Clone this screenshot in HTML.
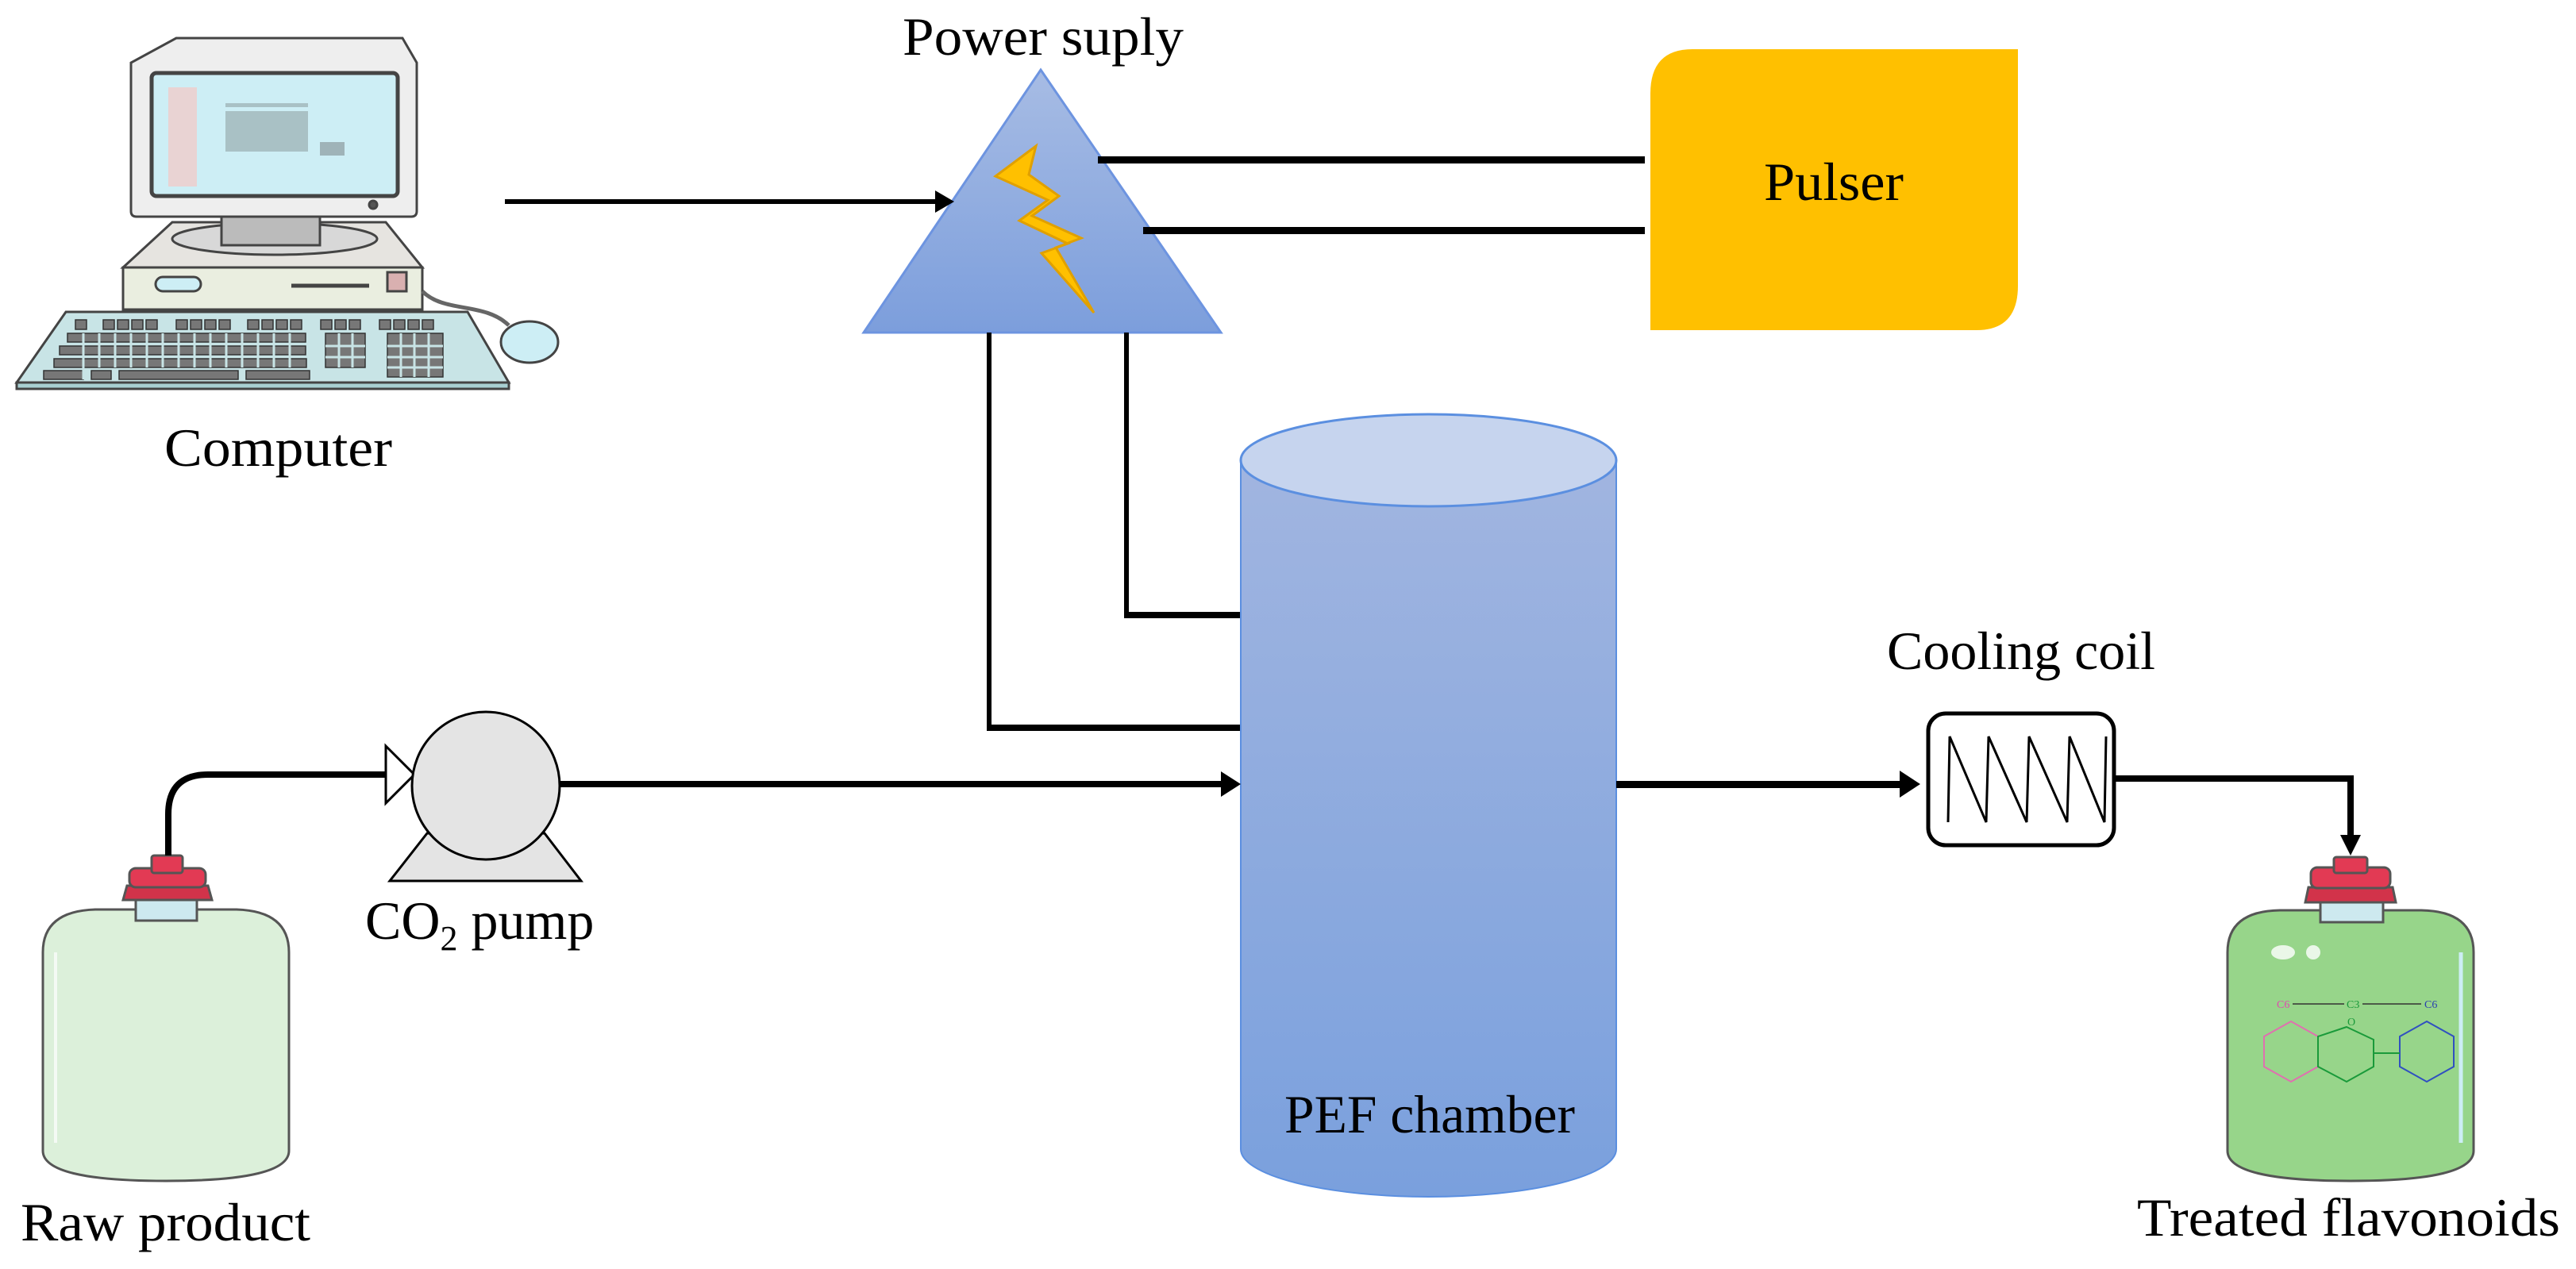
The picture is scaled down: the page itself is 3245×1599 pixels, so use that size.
<!DOCTYPE html>
<html><head><meta charset="utf-8"><style>html,body{margin:0;padding:0;background:#fff}svg{display:block}</style></head>
<body>
<svg width="3245" height="1599" viewBox="0 0 3245 1599" xmlns="http://www.w3.org/2000/svg" font-family="'Liberation Serif', serif">
<defs>
<linearGradient id="tri" x1="0" y1="0" x2="0" y2="1"><stop offset="0" stop-color="#a7bce4"/><stop offset="1" stop-color="#7c9edc"/></linearGradient>
<linearGradient id="cyl" x1="0" y1="0" x2="0" y2="1"><stop offset="0" stop-color="#a1b5e0"/><stop offset="1" stop-color="#7aa0dd"/></linearGradient>
</defs>

<!-- Computer -->
<g stroke="#444" stroke-width="3">
  <path d="M222,48 L507,48 L525,79 L525,266 Q525,273 518,273 L172,273 Q165,273 165,266 L165,79 Z" fill="#eeeeee"/>
  <rect x="191" y="92" width="310" height="155" rx="6" fill="#cdeef5" stroke-width="5"/>
  <rect x="212" y="110" width="36" height="125" fill="#e9d3d3" stroke="none"/>
  <rect x="284" y="140" width="104" height="51" fill="#a9c1c5" stroke="none"/>
  <rect x="284" y="130" width="104" height="5" fill="#a9c1c5" stroke="none"/>
  <rect x="403" y="179" width="31" height="17" fill="#9fb3b8" stroke="none"/>
  <circle cx="470" cy="258" r="5" fill="#555"/>
  <path d="M217,280 L486,280 L532,337 L155,337 Z" fill="#e6e4e0"/>
  <ellipse cx="346" cy="301" rx="129" ry="20" fill="#d8d8d8"/>
  <rect x="279" y="273" width="124" height="36" fill="#bbb"/>
  <rect x="155" y="337" width="377" height="53" fill="#eaeee0"/>
  <rect x="196" y="349" width="57" height="18" rx="9" fill="#cdeef5"/>
  <line x1="367" y1="360" x2="465" y2="360" stroke-width="5"/>
  <rect x="488" y="343" width="24" height="24" fill="#d9b0b0"/>
  <path d="M532,367 C560,395 610,380 641,410" fill="none" stroke-width="5" stroke="#666"/>
  <ellipse cx="667" cy="431" rx="36" ry="26" fill="#cdeef5"/>
  <path d="M83,393 L589,393 L641,482 L21,482 Z" fill="#c8e4e6"/>
  <rect x="21" y="482" width="620" height="8" fill="#a8d0d2"/>
</g>
<g fill="#777" stroke="#333" stroke-width="1.5">
  <rect x="95" y="403" width="14" height="12"/><rect x="130" y="403" width="14" height="12"/><rect x="148" y="403" width="14" height="12"/><rect x="166" y="403" width="14" height="12"/><rect x="184" y="403" width="14" height="12"/>
  <rect x="222" y="403" width="14" height="12"/><rect x="240" y="403" width="14" height="12"/><rect x="258" y="403" width="14" height="12"/><rect x="276" y="403" width="14" height="12"/>
  <rect x="312" y="403" width="14" height="12"/><rect x="330" y="403" width="14" height="12"/><rect x="348" y="403" width="14" height="12"/><rect x="366" y="403" width="14" height="12"/>
  <rect x="404" y="403" width="14" height="12"/><rect x="422" y="403" width="14" height="12"/><rect x="440" y="403" width="14" height="12"/>
  <rect x="478" y="403" width="14" height="12"/><rect x="496" y="403" width="14" height="12"/><rect x="514" y="403" width="14" height="12"/><rect x="532" y="403" width="14" height="12"/>
</g>
<g fill="#777" stroke="#333" stroke-width="1.5">
  <rect x="85" y="420" width="300" height="11"/><rect x="75" y="436" width="310" height="11"/><rect x="68" y="452" width="318" height="11"/>
  <rect x="410" y="420" width="50" height="43"/><rect x="488" y="420" width="70" height="55"/>
  <rect x="55" y="467" width="50" height="11"/><rect x="115" y="467" width="25" height="11"/><rect x="150" y="467" width="150" height="11"/><rect x="310" y="467" width="80" height="11"/>
</g>
<g stroke="#c8e4e6" stroke-width="3">
  <line x1="105" y1="420" x2="105" y2="478"/><line x1="125" y1="420" x2="125" y2="463"/><line x1="145" y1="420" x2="145" y2="463"/><line x1="165" y1="420" x2="165" y2="463"/><line x1="185" y1="420" x2="185" y2="463"/><line x1="205" y1="420" x2="205" y2="463"/><line x1="225" y1="420" x2="225" y2="463"/><line x1="245" y1="420" x2="245" y2="463"/><line x1="265" y1="420" x2="265" y2="463"/><line x1="285" y1="420" x2="285" y2="463"/><line x1="305" y1="420" x2="305" y2="463"/><line x1="325" y1="420" x2="325" y2="463"/><line x1="345" y1="420" x2="345" y2="463"/><line x1="365" y1="420" x2="365" y2="463"/>
  <line x1="427" y1="420" x2="427" y2="463"/><line x1="444" y1="420" x2="444" y2="463"/><line x1="505" y1="420" x2="505" y2="475"/><line x1="522" y1="420" x2="522" y2="475"/><line x1="540" y1="420" x2="540" y2="475"/>
  <line x1="488" y1="436" x2="558" y2="436"/><line x1="488" y1="450" x2="558" y2="450"/><line x1="488" y1="463" x2="558" y2="463"/><line x1="410" y1="436" x2="460" y2="436"/><line x1="410" y1="450" x2="460" y2="450"/>
</g>
<text x="207" y="587" font-size="68" textLength="287" lengthAdjust="spacingAndGlyphs">Computer</text>

<!-- Power supply -->
<text x="1137" y="69" font-size="68" textLength="354" lengthAdjust="spacingAndGlyphs">Power suply</text>
<polygon points="1311,88 1538,419 1088,419" fill="url(#tri)" stroke="#6d94e0" stroke-width="3"/>
<polygon points="1305,184 1254,222 1320,252 1284,278 1345,307 1312,319 1378,394 1330,312 1362,300 1300,272 1334,247 1296,220" fill="#ffc000" stroke="#e0a000" stroke-width="3"/>

<!-- connectors -->
<rect x="636" y="251" width="545" height="6" fill="#000"/>
<polygon points="1178,240 1202,254 1178,268" fill="#000"/>
<rect x="1383" y="197" width="689" height="9" fill="#000"/>
<rect x="1440" y="286" width="632" height="9" fill="#000"/>
<rect x="1243" y="419" width="6" height="502" fill="#000"/>
<rect x="1243" y="913" width="329" height="8" fill="#000"/>
<rect x="1416" y="419" width="6" height="360" fill="#000"/>
<rect x="1416" y="771" width="156" height="8" fill="#000"/>

<!-- Pulser -->
<path d="M2132,62 L2542,62 L2542,360 Q2542,416 2490,416 L2079,416 L2079,118 Q2079,62 2132,62 Z" fill="#ffc000"/>
<text x="2222" y="252" font-size="68" textLength="176" lengthAdjust="spacingAndGlyphs">Pulser</text>

<!-- Cylinder -->
<path d="M1563,580 L1563,1448 A236.5,60 0 0 0 2036,1448 L2036,580 Z" fill="url(#cyl)" stroke="#5b8fe0" stroke-width="2"/>
<ellipse cx="1799.5" cy="580" rx="236.5" ry="58" fill="#c6d4ee" stroke="#5b8fe0" stroke-width="3"/>
<text x="1618" y="1427" font-size="68" textLength="366" lengthAdjust="spacingAndGlyphs">PEF chamber</text>

<!-- Raw bottle -->
<g stroke="#555" stroke-width="3">
  <path d="M54,1200 Q54,1148 120,1146 L298,1146 Q364,1148 364,1200 L364,1450 Q364,1488 209,1488 Q54,1488 54,1450 Z" fill="#dcf0da"/>
  <line x1="70" y1="1200" x2="70" y2="1440" stroke="#fff" stroke-width="4" opacity="0.7"/>
  <rect x="171" y="1132" width="77" height="28" fill="#cde9ef"/>
  <path d="M160,1116 L262,1116 L267,1134 L155,1134 Z" fill="#d2334a"/>
  <rect x="163" y="1094" width="96" height="24" rx="8" fill="#e23a54"/>
  <rect x="191" y="1078" width="39" height="22" rx="3" fill="#e23a54"/>
</g>
<text x="26" y="1563" font-size="68" textLength="365" lengthAdjust="spacingAndGlyphs">Raw product</text>

<!-- inlet line -->
<path d="M212,1078 L212,1026 Q212,976 262,976 L486,976" fill="none" stroke="#000" stroke-width="8"/>
<!-- pump -->
<g stroke="#000" stroke-width="3" fill="#e4e4e4">
  <polygon points="538,1050 686,1050 732,1110 491,1110"/>
  <polygon points="486,940 522,976 486,1012" fill="#fff"/>
  <circle cx="612" cy="990" r="93"/>
</g>
<text x="460" y="1183" font-size="68">CO<tspan font-size="44" dy="14">2</tspan><tspan dy="-14"> pump</tspan></text>
<rect x="706" y="984" width="836" height="8" fill="#000"/>
<polygon points="1538,972 1563,988 1538,1004" fill="#000"/>

<!-- to cooling coil -->
<rect x="2036" y="984" width="362" height="9" fill="#000"/>
<polygon points="2393,971 2419,988 2393,1005" fill="#000"/>
<text x="2377" y="843" font-size="68" textLength="338" lengthAdjust="spacingAndGlyphs">Cooling coil</text>
<rect x="2429" y="899" width="234" height="166" rx="22" fill="#fff" stroke="#000" stroke-width="5"/>
<polyline points="2454,1036 2456,928 2502,1036 2505,928 2553,1036 2556,928 2604,1036 2607,928 2651,1036 2653,928" fill="none" stroke="#000" stroke-width="3"/>
<path d="M2663,981 L2961,981 L2961,1055" fill="none" stroke="#000" stroke-width="8"/>
<polygon points="2948,1052 2974,1052 2961,1078" fill="#000"/>

<!-- Treated bottle -->
<g stroke="#555" stroke-width="3">
  <path d="M2806,1200 Q2806,1148 2872,1147 L3050,1147 Q3116,1148 3116,1200 L3116,1450 Q3116,1488 2961,1488 Q2806,1488 2806,1450 Z" fill="#97d58a"/>
  <line x1="3100" y1="1200" x2="3100" y2="1440" stroke="#cdeef5" stroke-width="5"/>
  <rect x="2923" y="1135" width="79" height="27" fill="#cde9ef"/>
  <path d="M2908,1118 L3014,1118 L3018,1137 L2904,1137 Z" fill="#d2334a"/>
  <rect x="2911" y="1093" width="100" height="26" rx="8" fill="#e23a54"/>
  <rect x="2940" y="1080" width="42" height="20" rx="3" fill="#e23a54"/>
</g>
<ellipse cx="2876" cy="1200" rx="15" ry="9" fill="#fff" opacity="0.8"/>
<ellipse cx="2914" cy="1200" rx="9" ry="9" fill="#fff" opacity="0.8"/>
<g font-size="14">
  <text x="2868" y="1270" fill="#e04ab0">C6</text>
  <text x="2956" y="1270" fill="#1a9a3a">C3</text>
  <text x="3054" y="1270" fill="#2a3fb0">C6</text>
  <text x="2957" y="1292" fill="#1a9a3a">O</text>
</g>
<line x1="2888" y1="1265" x2="2953" y2="1265" stroke="#333" stroke-width="1.5"/>
<line x1="2976" y1="1265" x2="3050" y2="1265" stroke="#333" stroke-width="1.5"/>
<polygon points="2886,1287 2920,1306 2920,1344 2886,1363 2852,1344 2852,1306" fill="none" stroke="#e070b0" stroke-width="2"/>
<polygon points="2956,1294 2990,1310 2990,1344 2956,1363 2920,1344 2920,1306" fill="none" stroke="#1a9a3a" stroke-width="2"/>
<polygon points="3057,1287 3091,1306 3091,1344 3057,1363 3023,1344 3023,1306" fill="none" stroke="#3050c0" stroke-width="2"/>
<line x1="2990" y1="1327" x2="3023" y2="1327" stroke="#1a9a3a" stroke-width="2"/>
<text x="2692" y="1557" font-size="68" textLength="533" lengthAdjust="spacingAndGlyphs">Treated flavonoids</text>
</svg>
</body></html>
